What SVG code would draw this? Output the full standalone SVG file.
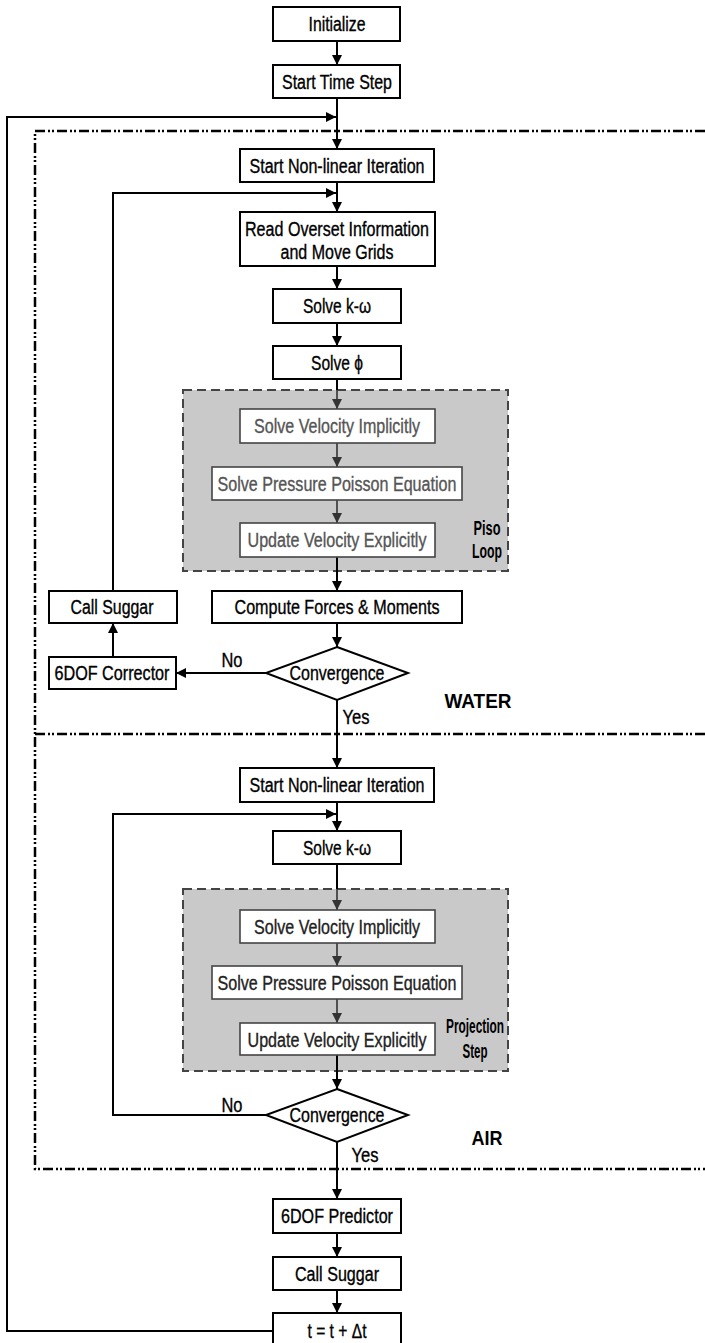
<svg xmlns="http://www.w3.org/2000/svg" width="705" height="1343" viewBox="0 0 705 1343">
<style>
.box{fill:#fff;stroke:#000;stroke-width:2}
.ibox{fill:#fff;stroke:#444;stroke-width:1.6}
.grp{fill:#c9c9c9;stroke:#444;stroke-width:2;stroke-dasharray:9 5}
.t{font-family:"Liberation Sans",Arial,sans-serif;font-size:20px;text-anchor:middle;fill:#000;stroke:#000;stroke-width:0.35}
.tw{fill:#555;stroke:#555}
.ta{fill:#222;stroke:#222}
.b{font-weight:bold;stroke-width:0}
.ln{fill:none;stroke:#000;stroke-width:2}
.gl{fill:none;stroke:#333;stroke-width:1.6}
.dd{fill:none;stroke:#000;stroke-width:2.5;stroke-dasharray:10 3 2 2 2 3}
</style>
<defs>
<marker id="ah" markerUnits="userSpaceOnUse" markerWidth="10" markerHeight="10" refX="10" refY="5" orient="auto" viewBox="0 0 10 10">
<path d="M0,0 L10,5 L0,10 z" fill="#000"/>
</marker>
<marker id="ahg" markerUnits="userSpaceOnUse" markerWidth="10" markerHeight="10" refX="10" refY="5" orient="auto" viewBox="0 0 10 10">
<path d="M0,0 L10,5 L0,10 z" fill="#333"/>
</marker>
</defs>

<g id="regions">
<path class="dd" d="M705,131 H35 V1169 H705"/>
<path class="dd" d="M35,734 H705"/>
<rect id="piso-box" class="grp" x="183" y="390" width="325" height="181"/>
<rect id="proj-box" class="grp" x="183" y="889" width="325" height="182"/>
</g>

<g id="connectors">
<line class="ln" x1="337" y1="41" x2="337" y2="65" marker-end="url(#ah)"/>
<line class="ln" x1="337" y1="98" x2="337" y2="149" marker-end="url(#ah)"/>
<path class="ln" d="M273,1331 H7 V117 H336" marker-end="url(#ah)"/>
<line class="ln" x1="337" y1="182" x2="337" y2="212" marker-end="url(#ah)"/>
<path class="ln" d="M113,591 V193 H336" marker-end="url(#ah)"/>
<line class="ln" x1="337" y1="266" x2="337" y2="289" marker-end="url(#ah)"/>
<line class="ln" x1="337" y1="323" x2="337" y2="346" marker-end="url(#ah)"/>
<line class="ln" x1="337" y1="379" x2="337" y2="390"/>
<line class="gl" x1="337" y1="390" x2="337" y2="409" marker-end="url(#ahg)"/>
<line class="gl" x1="337" y1="443" x2="337" y2="467" marker-end="url(#ahg)"/>
<line class="gl" x1="337" y1="500" x2="337" y2="523" marker-end="url(#ahg)"/>
<line class="ln" x1="337" y1="557" x2="337" y2="591" marker-end="url(#ah)"/>
<line class="ln" x1="337" y1="623" x2="337" y2="647" marker-end="url(#ah)"/>
<line class="ln" x1="266" y1="673" x2="176" y2="673" marker-end="url(#ah)"/>
<line class="ln" x1="113" y1="657" x2="113" y2="623" marker-end="url(#ah)"/>
<line class="ln" x1="337" y1="700" x2="337" y2="768" marker-end="url(#ah)"/>
<line class="ln" x1="337" y1="802" x2="337" y2="831" marker-end="url(#ah)"/>
<path class="ln" d="M266,1115 H113 V814 H336" marker-end="url(#ah)"/>
<line class="ln" x1="337" y1="864" x2="337" y2="889"/>
<line class="gl" x1="337" y1="889" x2="337" y2="910" marker-end="url(#ahg)"/>
<line class="gl" x1="337" y1="943" x2="337" y2="966" marker-end="url(#ahg)"/>
<line class="gl" x1="337" y1="999" x2="337" y2="1023" marker-end="url(#ahg)"/>
<line class="ln" x1="337" y1="1055" x2="337" y2="1089" marker-end="url(#ah)"/>
<line class="ln" x1="337" y1="1142" x2="337" y2="1199" marker-end="url(#ah)"/>
<line class="ln" x1="337" y1="1233" x2="337" y2="1257" marker-end="url(#ah)"/>
<line class="ln" x1="337" y1="1290" x2="337" y2="1313" marker-end="url(#ah)"/>
</g>

<g id="n-init"><rect class="box" x="273" y="7" width="127" height="34"/><text class="t" x="337" y="31" textLength="57" lengthAdjust="spacingAndGlyphs">Initialize</text></g>
<g id="n-timestep"><rect class="box" x="273" y="65" width="127" height="33"/><text class="t" x="337" y="89" textLength="110" lengthAdjust="spacingAndGlyphs">Start Time Step</text></g>

<g id="n-nl-water"><rect class="box" x="240" y="149" width="194" height="33"/><text class="t" x="337" y="173" textLength="175" lengthAdjust="spacingAndGlyphs">Start Non-linear Iteration</text></g>
<g id="n-overset"><rect class="box" x="240" y="212" width="195" height="54"/><text class="t" x="337" y="236" textLength="184" lengthAdjust="spacingAndGlyphs">Read Overset Information</text><text class="t" x="337" y="259" textLength="113" lengthAdjust="spacingAndGlyphs">and Move Grids</text></g>
<g id="n-kw-water"><rect class="box" x="273" y="289" width="128" height="34"/><text class="t" x="337" y="313" textLength="68" lengthAdjust="spacingAndGlyphs">Solve k-ω</text></g>
<g id="n-phi"><rect class="box" x="273" y="346" width="128" height="33"/><text class="t" x="337" y="370" textLength="52" lengthAdjust="spacingAndGlyphs">Solve ϕ</text></g>
<g id="n-svi-water"><rect class="ibox" x="240" y="409" width="195" height="34"/><text class="t tw" x="337" y="433" textLength="166" lengthAdjust="spacingAndGlyphs">Solve Velocity Implicitly</text></g>
<g id="n-sppe-water"><rect class="ibox" x="212" y="467" width="250" height="33"/><text class="t tw" x="337" y="491" textLength="239" lengthAdjust="spacingAndGlyphs">Solve Pressure Poisson Equation</text></g>
<g id="n-uve-water"><rect class="ibox" x="240" y="523" width="195" height="34"/><text class="t tw" x="337" y="547" textLength="179" lengthAdjust="spacingAndGlyphs">Update Velocity Explicitly</text></g>
<g id="l-piso"><text class="t b" x="487" y="535" font-size="17" fill="#222" textLength="27" lengthAdjust="spacingAndGlyphs">Piso</text><text class="t b" x="487" y="558" font-size="17" fill="#222" textLength="30" lengthAdjust="spacingAndGlyphs">Loop</text></g>
<g id="n-forces"><rect class="box" x="212" y="591" width="250" height="32"/><text class="t" x="337" y="614" textLength="205" lengthAdjust="spacingAndGlyphs">Compute Forces &amp; Moments</text></g>
<g id="n-conv-water"><polygon class="box" points="337,647 408,673 337,700 266,673"/><text class="t" x="337" y="680" textLength="95" lengthAdjust="spacingAndGlyphs">Convergence</text></g>
<g id="n-corrector"><rect class="box" x="49" y="657" width="127" height="32"/><text class="t" x="112" y="680" textLength="115" lengthAdjust="spacingAndGlyphs">6DOF Corrector</text></g>
<g id="n-suggar-water"><rect class="box" x="49" y="591" width="128" height="32"/><text class="t" x="112" y="614" textLength="83" lengthAdjust="spacingAndGlyphs">Call Suggar</text></g>
<g id="labels-water">
<text class="t" x="232" y="667" textLength="21" lengthAdjust="spacingAndGlyphs">No</text>
<text class="t" x="356" y="724" textLength="27" lengthAdjust="spacingAndGlyphs">Yes</text>
<text class="t b" x="478" y="708" font-size="21" textLength="67" lengthAdjust="spacingAndGlyphs">WATER</text>
</g>

<g id="n-nl-air"><rect class="box" x="240" y="768" width="194" height="34"/><text class="t" x="337" y="792" textLength="175" lengthAdjust="spacingAndGlyphs">Start Non-linear Iteration</text></g>
<g id="n-kw-air"><rect class="box" x="273" y="831" width="128" height="33"/><text class="t" x="337" y="855" textLength="68" lengthAdjust="spacingAndGlyphs">Solve k-ω</text></g>
<g id="n-svi-air"><rect class="ibox" x="240" y="910" width="195" height="33"/><text class="t ta" x="337" y="934" textLength="166" lengthAdjust="spacingAndGlyphs">Solve Velocity Implicitly</text></g>
<g id="n-sppe-air"><rect class="ibox" x="212" y="966" width="250" height="33"/><text class="t ta" x="337" y="990" textLength="239" lengthAdjust="spacingAndGlyphs">Solve Pressure Poisson Equation</text></g>
<g id="n-uve-air"><rect class="ibox" x="240" y="1023" width="195" height="32"/><text class="t ta" x="337" y="1047" textLength="179" lengthAdjust="spacingAndGlyphs">Update Velocity Explicitly</text></g>
<g id="l-proj"><text class="t b" x="475" y="1033" font-size="15" fill="#333" textLength="58" lengthAdjust="spacingAndGlyphs">Projection</text><text class="t b" x="475" y="1058" font-size="15" fill="#333" textLength="25" lengthAdjust="spacingAndGlyphs">Step</text></g>
<g id="n-conv-air"><polygon class="box" points="337,1089 408,1115 337,1142 266,1115"/><text class="t" x="337" y="1122" textLength="95" lengthAdjust="spacingAndGlyphs">Convergence</text></g>
<g id="labels-air">
<text class="t" x="232" y="1112" textLength="21" lengthAdjust="spacingAndGlyphs">No</text>
<text class="t" x="365" y="1162" textLength="27" lengthAdjust="spacingAndGlyphs">Yes</text>
<text class="t b" x="487" y="1145" font-size="21" textLength="31" lengthAdjust="spacingAndGlyphs">AIR</text>
</g>

<g id="n-predictor"><rect class="box" x="273" y="1199" width="128" height="34"/><text class="t" x="337" y="1223" textLength="112" lengthAdjust="spacingAndGlyphs">6DOF Predictor</text></g>
<g id="n-suggar"><rect class="box" x="273" y="1257" width="128" height="33"/><text class="t" x="337" y="1281" textLength="84" lengthAdjust="spacingAndGlyphs">Call Suggar</text></g>
<g id="n-time"><rect class="box" x="273" y="1313" width="128" height="40"/><text class="t" x="337" y="1338" textLength="59" lengthAdjust="spacingAndGlyphs">t = t + Δt</text></g>
</svg>
